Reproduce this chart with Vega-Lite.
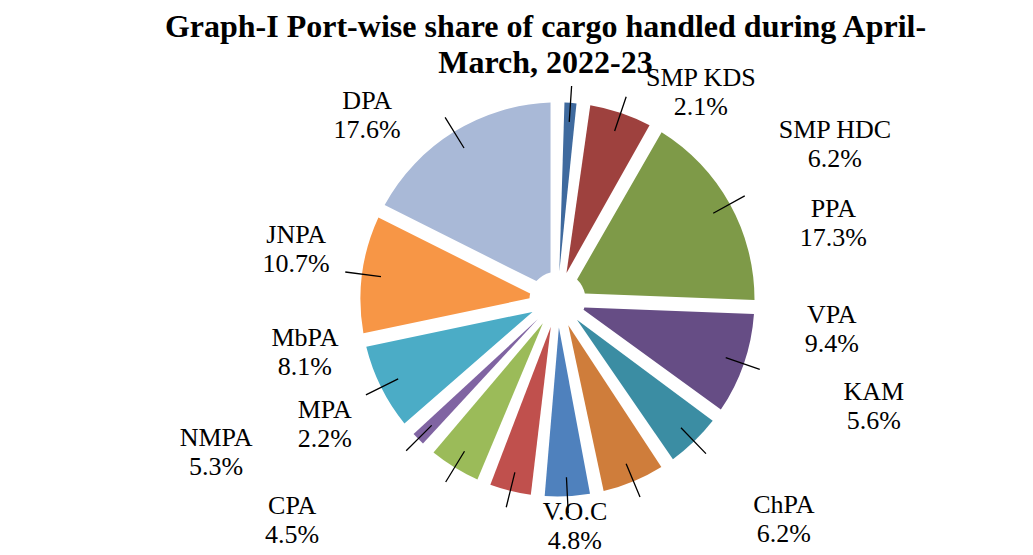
{
  "$schema": "https://vega.github.io/schema/vega-lite/v6.json",
  "width": 951,
  "height": 511,
  "autosize": {"type": "none"},
  "padding": {"left": 82, "top": 44, "right": 0, "bottom": 0},
  "background": "white",
  "config": {"view": {"stroke": null}, "font": "Liberation Serif"},
  "title": {
    "text": ["Graph-I Port-wise share of cargo handled during April-", "March, 2022-23"],
    "font": "Liberation Serif",
    "fontSize": 32,
    "fontWeight": "bold",
    "color": "black",
    "lineHeight": 36,
    "anchor": "middle",
    "offset": -36,
    "dx": -12
  },
  "data": {
    "values": [
      {"n": 1, "port": "SMP KDS", "share": 0.021},
      {"n": 2, "port": "SMP HDC", "share": 0.062},
      {"n": 3, "port": "PPA", "share": 0.173},
      {"n": 4, "port": "VPA", "share": 0.094},
      {"n": 5, "port": "KAM", "share": 0.056},
      {"n": 6, "port": "ChPA", "share": 0.062},
      {"n": 7, "port": "V.O.C", "share": 0.048},
      {"n": 8, "port": "CPA", "share": 0.045},
      {"n": 9, "port": "NMPA", "share": 0.053},
      {"n": 10, "port": "MPA", "share": 0.022},
      {"n": 11, "port": "MbPA", "share": 0.081},
      {"n": 12, "port": "JNPA", "share": 0.107},
      {"n": 13, "port": "DPA", "share": 0.176}
    ]
  },
  "resolve": {"scale": {"theta": "independent", "radius": "independent"}},
  "encoding": {
    "order": {"field": "n", "type": "quantitative", "sort": "ascending"}
  },
  "layer": [
    {
      "mark": {"type": "arc", "outerRadius": 197, "innerRadius": 28, "padAngle": 0.07},
      "encoding": {
        "theta": {"field": "share", "type": "quantitative", "stack": true},
        "color": {
          "field": "port",
          "type": "nominal",
          "legend": null,
          "scale": {
            "domain": ["SMP KDS", "SMP HDC", "PPA", "VPA", "KAM", "ChPA", "V.O.C", "CPA", "NMPA", "MPA", "MbPA", "JNPA", "DPA"],
            "range": ["#3F6A9E", "#9E413E", "#7E9A48", "#664D85", "#3B8DA3", "#CF7D3B", "#4F81BD", "#C0504D", "#9BBB59", "#8064A2", "#4BACC6", "#F79646", "#A9B9D7"]
          }
        }
      }
    },
    {
      "mark": {"type": "arc", "outerRadius": 214, "innerRadius": 178, "padAngle": 3.14, "filled": false, "stroke": "black", "strokeWidth": 1.3},
      "encoding": {
        "theta": {"field": "share", "type": "quantitative", "stack": true}
      }
    },
    {
      "mark": {"type": "text", "dy": -14.5, "fontSize": 26, "font": "Liberation Serif", "color": "black", "align": "center", "baseline": "middle"},
      "encoding": {
        "theta": {"field": "n", "type": "quantitative", "stack": false, "scale": {"type": "linear", "zero": false, "nice": false, "domain": [1, 2, 3, 4, 5, 6, 7, 8, 9, 10, 11, 12, 13], "range": [0.605, 1.06, 1.303, 1.681, 1.898, 2.343, 3.065, 4.019, 4.292, 4.221, 4.507, 4.9, 5.482]}},
        "radius": {"field": "n", "type": "quantitative", "scale": {"type": "linear", "zero": false, "nice": false, "domain": [1, 2, 3, 4, 5, 6, 7, 8, 9, 10, 11, 12, 13], "range": [252, 318, 286, 276, 334, 316, 228, 345, 374, 264, 258, 266, 265]}},
        "text": {"field": "port", "type": "nominal"}
      }
    },
    {
      "mark": {"type": "text", "dy": 14.5, "fontSize": 26, "font": "Liberation Serif", "color": "black", "align": "center", "baseline": "middle"},
      "encoding": {
        "theta": {"field": "n", "type": "quantitative", "stack": false, "scale": {"type": "linear", "zero": false, "nice": false, "domain": [1, 2, 3, 4, 5, 6, 7, 8, 9, 10, 11, 12, 13], "range": [0.605, 1.06, 1.303, 1.681, 1.898, 2.343, 3.065, 4.019, 4.292, 4.221, 4.507, 4.9, 5.482]}},
        "radius": {"field": "n", "type": "quantitative", "scale": {"type": "linear", "zero": false, "nice": false, "domain": [1, 2, 3, 4, 5, 6, 7, 8, 9, 10, 11, 12, 13], "range": [252, 318, 286, 276, 334, 316, 228, 345, 374, 264, 258, 266, 265]}},
        "text": {"field": "share", "type": "quantitative", "format": ".1%"}
      }
    }
  ]
}
